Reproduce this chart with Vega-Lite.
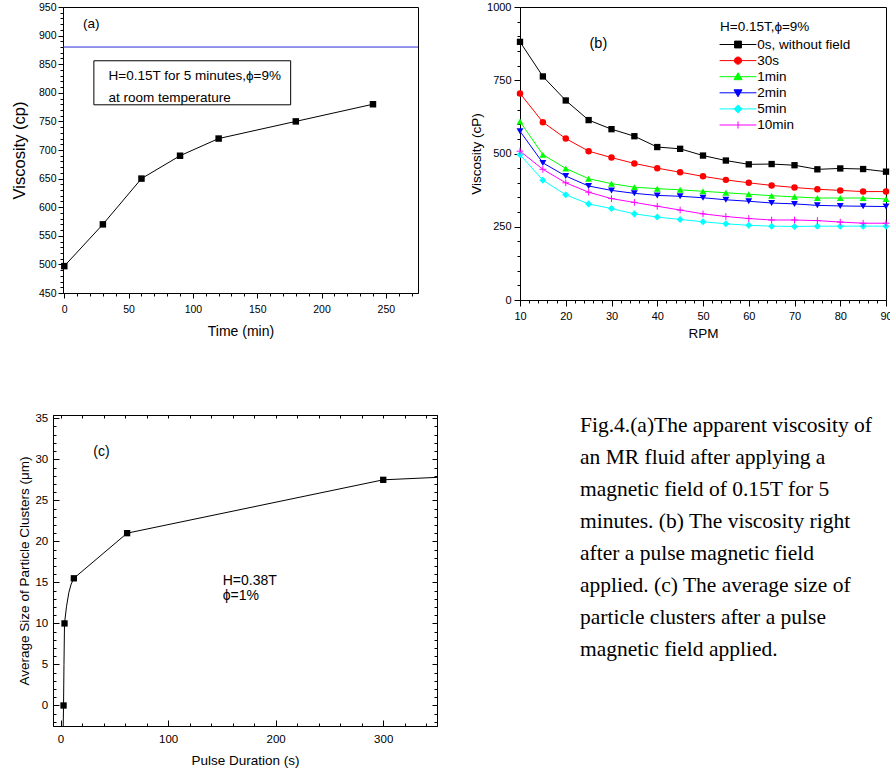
{
  "$schema": "https://vega.github.io/schema/vega-lite/v6.json",
  "padding": {"left": 10, "top": 0, "right": 0, "bottom": 0},
  "config": {
    "font": "Liberation Sans",
    "view": {"stroke": "black", "strokeWidth": 1},
    "axis": {"grid": false, "domainColor": "black", "domainWidth": 1, "tickColor": "black", "tickWidth": 1, "labelColor": "black", "titleColor": "black", "titleFontWeight": "normal", "labelOverlap": false, "labelFlush": false, "labelBound": false}
  },
  "spacing": 70,
  "vconcat": [
    {
      "spacing": 50,
      "hconcat": [
        {
          "spacing": 9,
          "bounds": "flush",
          "hconcat": [
            {"width": 1, "height": 1, "view": {"stroke": null}, "data": {"values": []}, "mark": "point"},
            {
              "width": 355, "height": 286,
              "resolve": {"axis": {"x": "independent", "y": "independent"}},
              "layer": [
                {
                  "data": {"values": [{"ref": 880}]},
                  "mark": {"type": "rule", "color": "#2b2bd6", "strokeWidth": 1},
                  "encoding": {"y": {"field": "ref", "type": "quantitative", "axis": null}}
                },
                {
                  "data": {"values": [{"x1": 23, "x2": 176, "y1": 779, "y2": 856}]},
                  "mark": {"type": "rect", "fill": "white", "stroke": "black", "strokeWidth": 1},
                  "encoding": {
                    "x": {"field": "x1", "type": "quantitative", "axis": null}, "x2": {"field": "x2"},
                    "y": {"field": "y1", "type": "quantitative", "axis": null}, "y2": {"field": "y2"}
                  }
                },
                {
                  "data": {"values": [
                    {"t": "(a)", "x": 14.5, "y": 920},
                    {"t": "H=0.15T for 5 minutes,ϕ=9%", "x": 34.4, "y": 829},
                    {"t": "at room temperature", "x": 34.4, "y": 791.5}
                  ]},
                  "mark": {"type": "text", "align": "left", "baseline": "middle", "fontSize": 13.5, "color": "black"},
                  "encoding": {
                    "x": {"field": "x", "type": "quantitative", "axis": null},
                    "y": {"field": "y", "type": "quantitative", "axis": null},
                    "text": {"field": "t"}
                  }
                },
                {
                  "data": {"values": [
                    {"time": 0, "visc": 497}, {"time": 30, "visc": 570}, {"time": 60, "visc": 650},
                    {"time": 90, "visc": 690}, {"time": 120, "visc": 720}, {"time": 180, "visc": 750}, {"time": 240, "visc": 780}
                  ]},
                  "layer": [
                    {"mark": {"type": "line", "color": "black", "strokeWidth": 1}},
                    {"mark": {"type": "point", "shape": "square", "filled": true, "color": "black", "size": 42, "opacity": 1}}
                  ],
                  "encoding": {
                    "x": {"field": "time", "type": "quantitative",
                      "scale": {"domain": [-1, 275], "nice": false, "zero": false},
                      "axis": {"orient": "bottom", "title": "Time (min)", "titleFontSize": 14, "titlePadding": 9, "labelFontSize": 10.5, "labelPadding": 6.5, "labelOverlap": false,
                        "values": [0,10,20,30,40,50,60,70,80,90,100,110,120,130,140,150,160,170,180,190,200,210,220,230,240,250,260,270],
                        "labelExpr": "datum.value % 50 === 0 ? datum.label : ''",
                        "tickSize": {"condition": {"test": "datum.value % 50 === 0", "value": 5}, "value": 3}}},
                    "y": {"field": "visc", "type": "quantitative",
                      "scale": {"domain": [450, 950], "nice": false, "zero": false},
                      "axis": {"orient": "left", "title": "Viscosity (cp)", "titleFontSize": 16.5, "titlePadding": 11, "labelFontSize": 10.5, "labelPadding": 2, "labelOverlap": false,
                        "values": [450,460,470,480,490,500,510,520,530,540,550,560,570,580,590,600,610,620,630,640,650,660,670,680,690,700,710,720,730,740,750,760,770,780,790,800,810,820,830,840,850,860,870,880,890,900,910,920,930,940,950],
                        "labelExpr": "datum.value % 50 === 0 ? datum.label : ''",
                        "tickSize": {"condition": {"test": "datum.value % 50 === 0", "value": 5}, "value": 3}}}
                  }
                }
              ]
            }
          ]
        },
        {
          "width": 366, "height": 293,
          "resolve": {"axis": {"x": "independent", "y": "independent"}},
          "layer": [
            {
              "data": {"values": [{"t": "(b)", "x": 25.2, "y": 875}]},
              "mark": {"type": "text", "align": "left", "baseline": "middle", "fontSize": 14.5, "color": "black"},
              "encoding": {
                "x": {"field": "x", "type": "quantitative", "axis": null},
                "y": {"field": "y", "type": "quantitative", "axis": null},
                "text": {"field": "t"}
              }
            },
            {
              "data": {"values": [
                {"s":"0s, without field","r":10,"v":881},{"s":"0s, without field","r":15,"v":763},{"s":"0s, without field","r":20,"v":681},{"s":"0s, without field","r":25,"v":614},{"s":"0s, without field","r":30,"v":583},{"s":"0s, without field","r":35,"v":559},{"s":"0s, without field","r":40,"v":522},{"s":"0s, without field","r":45,"v":516},{"s":"0s, without field","r":50,"v":493},{"s":"0s, without field","r":55,"v":476},{"s":"0s, without field","r":60,"v":463},{"s":"0s, without field","r":65,"v":464},{"s":"0s, without field","r":70,"v":460},{"s":"0s, without field","r":75,"v":446},{"s":"0s, without field","r":80,"v":449},{"s":"0s, without field","r":85,"v":447},{"s":"0s, without field","r":90,"v":438},
                {"s":"30s","r":10,"v":705},{"s":"30s","r":15,"v":607},{"s":"30s","r":20,"v":551},{"s":"30s","r":25,"v":508},{"s":"30s","r":30,"v":486},{"s":"30s","r":35,"v":466},{"s":"30s","r":40,"v":450},{"s":"30s","r":45,"v":436},{"s":"30s","r":50,"v":422},{"s":"30s","r":55,"v":410},{"s":"30s","r":60,"v":400},{"s":"30s","r":65,"v":391},{"s":"30s","r":70,"v":384},{"s":"30s","r":75,"v":378},{"s":"30s","r":80,"v":374},{"s":"30s","r":85,"v":370},{"s":"30s","r":90,"v":370},
                {"s":"1min","r":10,"v":609},{"s":"1min","r":15,"v":496},{"s":"1min","r":20,"v":449},{"s":"1min","r":25,"v":414},{"s":"1min","r":30,"v":397},{"s":"1min","r":35,"v":385},{"s":"1min","r":40,"v":380},{"s":"1min","r":45,"v":376},{"s":"1min","r":50,"v":371},{"s":"1min","r":55,"v":366},{"s":"1min","r":60,"v":361},{"s":"1min","r":65,"v":356},{"s":"1min","r":70,"v":352},{"s":"1min","r":75,"v":348},{"s":"1min","r":80,"v":348},{"s":"1min","r":85,"v":348},{"s":"1min","r":90,"v":345},
                {"s":"2min","r":10,"v":576},{"s":"2min","r":15,"v":468},{"s":"2min","r":20,"v":423},{"s":"2min","r":25,"v":389},{"s":"2min","r":30,"v":374},{"s":"2min","r":35,"v":364},{"s":"2min","r":40,"v":357},{"s":"2min","r":45,"v":354},{"s":"2min","r":50,"v":349},{"s":"2min","r":55,"v":342},{"s":"2min","r":60,"v":337},{"s":"2min","r":65,"v":331},{"s":"2min","r":70,"v":328},{"s":"2min","r":75,"v":323},{"s":"2min","r":80,"v":321},{"s":"2min","r":85,"v":320},{"s":"2min","r":90,"v":319},
                {"s":"5min","r":10,"v":496},{"s":"5min","r":15,"v":409},{"s":"5min","r":20,"v":359},{"s":"5min","r":25,"v":328},{"s":"5min","r":30,"v":312},{"s":"5min","r":35,"v":294},{"s":"5min","r":40,"v":283},{"s":"5min","r":45,"v":275},{"s":"5min","r":50,"v":267},{"s":"5min","r":55,"v":260},{"s":"5min","r":60,"v":255},{"s":"5min","r":65,"v":252},{"s":"5min","r":70,"v":251},{"s":"5min","r":75,"v":252},{"s":"5min","r":80,"v":252},{"s":"5min","r":85,"v":252},{"s":"5min","r":90,"v":252},
                {"s":"10min","r":10,"v":508},{"s":"10min","r":15,"v":446},{"s":"10min","r":20,"v":400},{"s":"10min","r":25,"v":368},{"s":"10min","r":30,"v":346},{"s":"10min","r":35,"v":333},{"s":"10min","r":40,"v":320},{"s":"10min","r":45,"v":307},{"s":"10min","r":50,"v":294},{"s":"10min","r":55,"v":285},{"s":"10min","r":60,"v":278},{"s":"10min","r":65,"v":273},{"s":"10min","r":70,"v":273},{"s":"10min","r":75,"v":271},{"s":"10min","r":80,"v":266},{"s":"10min","r":85,"v":262},{"s":"10min","r":90,"v":262}
              ]},
              "encoding": {
                "x": {"field": "r", "type": "quantitative",
                  "scale": {"domain": [10, 90], "nice": false, "zero": false},
                  "axis": {"orient": "bottom", "title": "RPM", "titleFontSize": 13.5, "titlePadding": 5, "labelFontSize": 11, "labelPadding": 4.5, "labelOverlap": false,
                    "values": [10,12,14,16,18,20,22,24,26,28,30,32,34,36,38,40,42,44,46,48,50,52,54,56,58,60,62,64,66,68,70,72,74,76,78,80,82,84,86,88,90],
                    "labelExpr": "datum.value % 10 === 0 ? datum.label : ''",
                    "tickSize": {"condition": {"test": "datum.value % 10 === 0", "value": 6}, "value": 3}}},
                "y": {"field": "v", "type": "quantitative",
                  "scale": {"domain": [0, 1000], "nice": false},
                  "axis": {"orient": "left", "title": "Viscosity (cP)", "titleFontSize": 13.5, "titlePadding": 3, "labelFontSize": 11, "labelPadding": 3, "labelOverlap": false, "format": "d",
                    "values": [0,50,100,150,200,250,300,350,400,450,500,550,600,650,700,750,800,850,900,950,1000],
                    "labelExpr": "datum.value % 250 === 0 ? datum.label : ''",
                    "tickSize": {"condition": {"test": "datum.value % 250 === 0", "value": 6}, "value": 3}}}
              },
              "layer": [
                {
                  "mark": {"type": "line", "strokeWidth": 1},
                  "encoding": {
                    "color": {"field": "s", "type": "nominal",
                      "scale": {"domain": ["0s, without field", "30s", "1min", "2min", "5min", "10min"], "range": ["#000000", "#ff0000", "#00ff00", "#0000ff", "#00ffff", "#ff00ff"]},
                      "legend": {
                        "orient": "none", "legendX": 667, "legendY": 12.5, "padding": 0, "offset": 0,
                        "title": "H=0.15T,ϕ=9%", "titleFontSize": 13.5, "titleFontWeight": "normal", "titleColor": "black", "titlePadding": 4.75,
                        "labelFontSize": 13.5, "labelColor": "black", "labelLimit": 300,
                        "symbolSize": 64, "symbolOffset": 11.25, "labelOffset": 12.5, "rowPadding": 1.1, "symbolStrokeWidth": 1,
                        "encode": {"symbols": {"update": {
                          "shape": {"signal": "datum.value === '0s, without field' ? 'M-4.6,0H4.6M-0.85,-0.85H0.85V0.85H-0.85Z' : datum.value === '30s' ? 'M-4.6,0H4.6M-0.9,0A0.9,0.9,0,1,1,0.9,0A0.9,0.9,0,1,1,-0.9,0Z' : datum.value === '1min' ? 'M-4.6,0H4.6M0,-1L1,0.75H-1Z' : datum.value === '2min' ? 'M-4.6,0H4.6M0,1L1,-0.75H-1Z' : datum.value === '5min' ? 'M-4.6,0H4.6M0,-1L1,0L0,1L-1,0Z' : 'M-4.6,0H4.6M0,-0.9V0.9'"},
                          "fill": {"signal": "datum.value === '0s, without field' ? '#000000' : datum.value === '30s' ? '#ff0000' : datum.value === '1min' ? '#00ff00' : datum.value === '2min' ? '#0000ff' : datum.value === '5min' ? '#00ffff' : '#ff00ff'"},
                          "stroke": {"signal": "datum.value === '0s, without field' ? '#000000' : datum.value === '30s' ? '#ff0000' : datum.value === '1min' ? '#00ff00' : datum.value === '2min' ? '#0000ff' : datum.value === '5min' ? '#00ffff' : '#ff00ff'"},
                          "strokeWidth": {"value": 1},
                          "opacity": {"value": 1}
                        }}}
                      }}
                  }
                },
                {"transform": [{"filter": "datum.s === '0s, without field'"}], "mark": {"type": "point", "shape": "square", "filled": true, "color": "#000000", "size": 40, "opacity": 1}},
                {"transform": [{"filter": "datum.s === '30s'"}], "mark": {"type": "point", "shape": "circle", "filled": true, "color": "#ff0000", "size": 42, "opacity": 1}},
                {"transform": [{"filter": "datum.s === '1min'"}], "mark": {"type": "point", "shape": "triangle-up", "filled": true, "color": "#00ff00", "size": 48, "opacity": 1}},
                {"transform": [{"filter": "datum.s === '2min'"}], "mark": {"type": "point", "shape": "triangle-down", "filled": true, "color": "#0000ff", "size": 48, "opacity": 1}},
                {"transform": [{"filter": "datum.s === '5min'"}], "mark": {"type": "point", "shape": "diamond", "filled": true, "color": "#00ffff", "size": 50, "opacity": 1}},
                {"transform": [{"filter": "datum.s === '10min'"}], "mark": {"type": "point", "shape": "M-1,0H1M0,-1V1", "filled": false, "color": "#ff00ff", "strokeWidth": 1, "size": 45, "opacity": 1}}
              ]
            }
          ]
        }
      ]
    },
    {
      "spacing": 142,
      "hconcat": [
        {
          "width": 384, "height": 311,
          "resolve": {"axis": {"x": "independent", "y": "independent"}},
          "layer": [
            {
              "data": {"values": [
                {"t": "(c)", "x": 30.4, "y": 30.9},
                {"t": "H=0.38T", "x": 150.8, "y": 15.2},
                {"t": "ϕ=1%", "x": 150.8, "y": 13.35}
              ]},
              "mark": {"type": "text", "align": "left", "baseline": "middle", "fontSize": 14, "color": "black"},
              "encoding": {
                "x": {"field": "x", "type": "quantitative", "axis": null},
                "y": {"field": "y", "type": "quantitative", "axis": null},
                "text": {"field": "t"}
              }
            },
            {
              "data": {"values": [
                {"d": 2.5, "size": -2.5}, {"d": 2.8, "size": 0}, {"d": 3.2, "size": 5}, {"d": 3.7, "size": 10},
                {"d": 5.6, "size": 12.1}, {"d": 7.8, "size": 13.8}, {"d": 9.9, "size": 14.8}, {"d": 12.4, "size": 15.5},
                {"d": 61.9, "size": 21}, {"d": 300, "size": 27.5}, {"d": 350, "size": 27.8}
              ]},
              "mark": {"type": "line", "color": "black", "strokeWidth": 1, "clip": true},
              "encoding": {
                "x": {"field": "d", "type": "quantitative",
                  "scale": {"domain": [-7, 350], "nice": false, "zero": false},
                  "axis": {"orient": "bottom", "title": "Pulse Duration (s)", "titleFontSize": 13.5, "titlePadding": 6, "labelFontSize": 11.5, "labelPadding": 13, "labelOverlap": false,
                    "values": [0,20,40,60,80,100,120,140,160,180,200,220,240,260,280,300,320,340],
                    "labelExpr": "datum.value % 100 === 0 ? datum.label : ''",
                    "tickSize": {"condition": {"test": "datum.value % 100 === 0", "value": -6}, "value": -3}}},
                "y": {"field": "size", "type": "quantitative",
                  "scale": {"domain": [-2.5, 35.4], "nice": false, "zero": false},
                  "axis": {"orient": "left", "title": "Average Size of Particle Clusters (μm)", "titleFontSize": 13.5, "titlePadding": 3.5, "labelFontSize": 11.5, "labelPadding": 11.3, "labelOverlap": false,
                    "values": [-2,-1,0,1,2,3,4,5,6,7,8,9,10,11,12,13,14,15,16,17,18,19,20,21,22,23,24,25,26,27,28,29,30,31,32,33,34,35],
                    "labelExpr": "datum.value % 5 === 0 ? datum.label : ''",
                    "tickSize": {"condition": {"test": "datum.value % 5 === 0", "value": -6}, "value": -3}}}
              }
            },
            {
              "data": {"values": [
                {"d": 2.8, "size": 0}, {"d": 3.7, "size": 10}, {"d": 12.4, "size": 15.5}, {"d": 61.9, "size": 21}, {"d": 300, "size": 27.5}
              ]},
              "mark": {"type": "point", "shape": "square", "filled": true, "color": "black", "size": 40, "opacity": 1},
              "encoding": {
                "x": {"field": "d", "type": "quantitative",
                  "axis": {"orient": "top", "labels": false, "title": null, "values": [0,20,40,60,80,100,120,140,160,180,200,220,240,260,280,300,320,340], "tickSize": -3}},
                "y": {"field": "size", "type": "quantitative",
                  "axis": {"orient": "right", "labels": false, "title": null,
                    "values": [-2,-1,0,1,2,3,4,5,6,7,8,9,10,11,12,13,14,15,16,17,18,19,20,21,22,23,24,25,26,27,28,29,30,31,32,33,34,35],
                    "tickSize": {"condition": {"test": "datum.value % 5 === 0", "value": -5}, "value": -3}}}
              }
            }
          ]
        },
        {
          "width": 300, "height": 235,
          "view": {"stroke": null},
          "data": {"values": [
            {"n": 0, "t": "Fig.4.(a)The apparent viscosity of"},
            {"n": 1, "t": "an MR fluid after applying a"},
            {"n": 2, "t": "magnetic field of 0.15T for 5"},
            {"n": 3, "t": "minutes. (b) The viscosity right"},
            {"n": 4, "t": "after a pulse magnetic field"},
            {"n": 5, "t": "applied. (c) The average size of"},
            {"n": 6, "t": "particle clusters after a pulse"},
            {"n": 7, "t": "magnetic field applied."}
          ]},
          "mark": {"type": "text", "align": "left", "baseline": "middle", "font": "Liberation Serif", "fontSize": 21.5, "color": "black"},
          "encoding": {
            "x": {"datum": 0, "type": "quantitative", "scale": {"domain": [0, 1]}, "axis": null},
            "y": {"field": "n", "type": "quantitative", "scale": {"domain": [-0.36, 7], "reverse": true, "nice": false, "zero": false}, "axis": null},
            "text": {"field": "t"}
          }
        }
      ]
    }
  ]
}
